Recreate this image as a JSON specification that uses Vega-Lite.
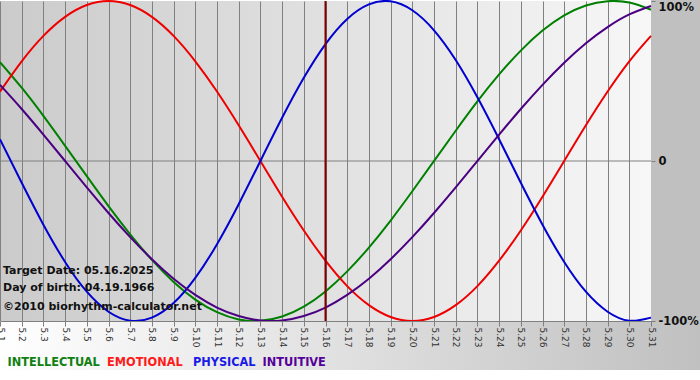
{
  "$schema": "https://vega.github.io/schema/vega-lite/v6.json",
  "width": 651,
  "height": 320,
  "autosize": {"type": "none"},
  "padding": {"left": 0, "top": 1, "right": 49, "bottom": 59},
  "background": "#ffffff",
  "view": {"stroke": null, "fill": {"expr": "{gradient: 'linear', x1: 0, y1: 0, x2: 1, y2: 0, stops: [{offset: 0, color: '#cbcbcb'}, {offset: 1, color: '#f7f7f7'}]}"}},
  "config": {"font": "DejaVu Sans"},
  "resolve": {"axis": {"x": "independent"}},
  "layer": [
    {
      "data": {"values": [{}]},
      "mark": {"type": "rect", "fill": {"gradient": "linear", "x1": 0, "y1": 0, "x2": 1, "y2": 0, "stops": [{"offset": 0, "color": "#ffffff"}, {"offset": 1, "color": "#c0c0c0"}]}},
      "encoding": {
        "x": {
          "datum": 0.9, "type": "quantitative",
          "axis": {
            "orient": "bottom",
            "values": [1,2,3,4,5,6,7,8,9,10,11,12,13,14,15,16,17,18,19,20,21,22,23,24,25,26,27,28,29,30,31],
            "tickCount": 40,
            "labelExpr": "'5.' + datum.value",
            "title": null,
            "grid": false,
            "domain": true, "domainColor": "#808080",
            "ticks": true, "tickColor": "#808080", "tickSize": 5,
            "labelAngle": 90, "labelFont": "DejaVu Sans", "labelFontSize": 9, "labelColor": "#333333",
            "labelPadding": 1, "labelOverlap": false, "labelFlush": false, "labelBound": false,
            "zindex": 1
          }
        },
        "x2": {"datum": 33.3},
        "y": {"datum": -100, "type": "quantitative"},
        "y2": {"datum": -130.6}
      }
    },
    {
      "data": {"values": [{}]},
      "mark": {"type": "rect", "fill": "#c0c0c0"},
      "encoding": {
        "x": {"datum": 31, "type": "quantitative", "axis": null},
        "x2": {"datum": 33.3},
        "y": {"datum": -100, "type": "quantitative"},
        "y2": {"datum": 101}
      }
    },
    {
      "data": {"values": [{}]},
      "mark": {"type": "rule", "color": "#808080", "strokeWidth": 1},
      "encoding": {"y": {"datum": 0, "type": "quantitative"}}
    },
    {
      "data": {"values": [
        {"day": 1, "series": "INTELLECTUAL", "value": 61.8}, {"day": 2, "series": "INTELLECTUAL", "value": 45.8}, {"day": 3, "series": "INTELLECTUAL", "value": 28.2}, {"day": 4, "series": "INTELLECTUAL", "value": 9.5}, {"day": 5, "series": "INTELLECTUAL", "value": -9.5}, {"day": 6, "series": "INTELLECTUAL", "value": -28.2}, {"day": 7, "series": "INTELLECTUAL", "value": -45.8}, {"day": 8, "series": "INTELLECTUAL", "value": -61.8}, {"day": 9, "series": "INTELLECTUAL", "value": -75.6}, {"day": 10, "series": "INTELLECTUAL", "value": -86.6}, {"day": 11, "series": "INTELLECTUAL", "value": -94.5}, {"day": 12, "series": "INTELLECTUAL", "value": -99.0}, {"day": 13, "series": "INTELLECTUAL", "value": -99.9}, {"day": 14, "series": "INTELLECTUAL", "value": -97.2}, {"day": 15, "series": "INTELLECTUAL", "value": -91.0}, {"day": 16, "series": "INTELLECTUAL", "value": -81.5}, {"day": 17, "series": "INTELLECTUAL", "value": -69.0}, {"day": 18, "series": "INTELLECTUAL", "value": -54.1}, {"day": 19, "series": "INTELLECTUAL", "value": -37.2}, {"day": 20, "series": "INTELLECTUAL", "value": -18.9}, {"day": 21, "series": "INTELLECTUAL", "value": 0}, {"day": 22, "series": "INTELLECTUAL", "value": 18.9}, {"day": 23, "series": "INTELLECTUAL", "value": 37.2}, {"day": 24, "series": "INTELLECTUAL", "value": 54.1}, {"day": 25, "series": "INTELLECTUAL", "value": 69.0}, {"day": 26, "series": "INTELLECTUAL", "value": 81.5}, {"day": 27, "series": "INTELLECTUAL", "value": 91.0}, {"day": 28, "series": "INTELLECTUAL", "value": 97.2}, {"day": 29, "series": "INTELLECTUAL", "value": 99.9}, {"day": 30, "series": "INTELLECTUAL", "value": 99.0}, {"day": 31, "series": "INTELLECTUAL", "value": 94.5},
        {"day": 1, "series": "EMOTIONAL", "value": 43.4}, {"day": 2, "series": "EMOTIONAL", "value": 62.3}, {"day": 3, "series": "EMOTIONAL", "value": 78.2}, {"day": 4, "series": "EMOTIONAL", "value": 90.1}, {"day": 5, "series": "EMOTIONAL", "value": 97.5}, {"day": 6, "series": "EMOTIONAL", "value": 100}, {"day": 7, "series": "EMOTIONAL", "value": 97.5}, {"day": 8, "series": "EMOTIONAL", "value": 90.1}, {"day": 9, "series": "EMOTIONAL", "value": 78.2}, {"day": 10, "series": "EMOTIONAL", "value": 62.3}, {"day": 11, "series": "EMOTIONAL", "value": 43.4}, {"day": 12, "series": "EMOTIONAL", "value": 22.3}, {"day": 13, "series": "EMOTIONAL", "value": 0}, {"day": 14, "series": "EMOTIONAL", "value": -22.3}, {"day": 15, "series": "EMOTIONAL", "value": -43.4}, {"day": 16, "series": "EMOTIONAL", "value": -62.3}, {"day": 17, "series": "EMOTIONAL", "value": -78.2}, {"day": 18, "series": "EMOTIONAL", "value": -90.1}, {"day": 19, "series": "EMOTIONAL", "value": -97.5}, {"day": 20, "series": "EMOTIONAL", "value": -100}, {"day": 21, "series": "EMOTIONAL", "value": -97.5}, {"day": 22, "series": "EMOTIONAL", "value": -90.1}, {"day": 23, "series": "EMOTIONAL", "value": -78.2}, {"day": 24, "series": "EMOTIONAL", "value": -62.3}, {"day": 25, "series": "EMOTIONAL", "value": -43.4}, {"day": 26, "series": "EMOTIONAL", "value": -22.3}, {"day": 27, "series": "EMOTIONAL", "value": 0}, {"day": 28, "series": "EMOTIONAL", "value": 22.3}, {"day": 29, "series": "EMOTIONAL", "value": 43.4}, {"day": 30, "series": "EMOTIONAL", "value": 62.3}, {"day": 31, "series": "EMOTIONAL", "value": 78.2},
        {"day": 1, "series": "PHYSICAL", "value": 13.6}, {"day": 2, "series": "PHYSICAL", "value": -13.6}, {"day": 3, "series": "PHYSICAL", "value": -39.8}, {"day": 4, "series": "PHYSICAL", "value": -63.1}, {"day": 5, "series": "PHYSICAL", "value": -81.7}, {"day": 6, "series": "PHYSICAL", "value": -94.2}, {"day": 7, "series": "PHYSICAL", "value": -99.8}, {"day": 8, "series": "PHYSICAL", "value": -97.9}, {"day": 9, "series": "PHYSICAL", "value": -88.8}, {"day": 10, "series": "PHYSICAL", "value": -73.1}, {"day": 11, "series": "PHYSICAL", "value": -52.0}, {"day": 12, "series": "PHYSICAL", "value": -27.0}, {"day": 13, "series": "PHYSICAL", "value": 0}, {"day": 14, "series": "PHYSICAL", "value": 27.0}, {"day": 15, "series": "PHYSICAL", "value": 52.0}, {"day": 16, "series": "PHYSICAL", "value": 73.1}, {"day": 17, "series": "PHYSICAL", "value": 88.8}, {"day": 18, "series": "PHYSICAL", "value": 97.9}, {"day": 19, "series": "PHYSICAL", "value": 99.8}, {"day": 20, "series": "PHYSICAL", "value": 94.2}, {"day": 21, "series": "PHYSICAL", "value": 81.7}, {"day": 22, "series": "PHYSICAL", "value": 63.1}, {"day": 23, "series": "PHYSICAL", "value": 39.8}, {"day": 24, "series": "PHYSICAL", "value": 13.6}, {"day": 25, "series": "PHYSICAL", "value": -13.6}, {"day": 26, "series": "PHYSICAL", "value": -39.8}, {"day": 27, "series": "PHYSICAL", "value": -63.1}, {"day": 28, "series": "PHYSICAL", "value": -81.7}, {"day": 29, "series": "PHYSICAL", "value": -94.2}, {"day": 30, "series": "PHYSICAL", "value": -99.8}, {"day": 31, "series": "PHYSICAL", "value": -97.9},
        {"day": 1, "series": "INTUITIVE", "value": 47.6}, {"day": 2, "series": "INTUITIVE", "value": 32.5}, {"day": 3, "series": "INTUITIVE", "value": 16.5}, {"day": 4, "series": "INTUITIVE", "value": 0}, {"day": 5, "series": "INTUITIVE", "value": -16.5}, {"day": 6, "series": "INTUITIVE", "value": -32.5}, {"day": 7, "series": "INTUITIVE", "value": -47.6}, {"day": 8, "series": "INTUITIVE", "value": -61.4}, {"day": 9, "series": "INTUITIVE", "value": -73.6}, {"day": 10, "series": "INTUITIVE", "value": -83.7}, {"day": 11, "series": "INTUITIVE", "value": -91.6}, {"day": 12, "series": "INTUITIVE", "value": -96.9}, {"day": 13, "series": "INTUITIVE", "value": -99.7}, {"day": 14, "series": "INTUITIVE", "value": -99.7}, {"day": 15, "series": "INTUITIVE", "value": -96.9}, {"day": 16, "series": "INTUITIVE", "value": -91.6}, {"day": 17, "series": "INTUITIVE", "value": -83.7}, {"day": 18, "series": "INTUITIVE", "value": -73.6}, {"day": 19, "series": "INTUITIVE", "value": -61.4}, {"day": 20, "series": "INTUITIVE", "value": -47.6}, {"day": 21, "series": "INTUITIVE", "value": -32.5}, {"day": 22, "series": "INTUITIVE", "value": -16.5}, {"day": 23, "series": "INTUITIVE", "value": 0}, {"day": 24, "series": "INTUITIVE", "value": 16.5}, {"day": 25, "series": "INTUITIVE", "value": 32.5}, {"day": 26, "series": "INTUITIVE", "value": 47.6}, {"day": 27, "series": "INTUITIVE", "value": 61.4}, {"day": 28, "series": "INTUITIVE", "value": 73.6}, {"day": 29, "series": "INTUITIVE", "value": 83.7}, {"day": 30, "series": "INTUITIVE", "value": 91.6}, {"day": 31, "series": "INTUITIVE", "value": 96.9}
      ]},
      "mark": {"type": "line", "strokeWidth": 2, "interpolate": "natural"},
      "encoding": {
        "x": {
          "field": "day", "type": "quantitative",
          "scale": {"domain": [1, 31], "nice": false, "zero": false},
          "axis": {
            "orient": "bottom",
            "values": [1,2,3,4,5,6,7,8,9,10,11,12,13,14,15,16,17,18,19,20,21,22,23,24,25,26,27,28,29,30,31],
            "tickCount": 40,
            "title": null,
            "grid": true, "gridColor": "#808080", "gridOpacity": 1, "gridWidth": 1,
            "labels": false, "ticks": false, "domain": false,
            "zindex": 0
          }
        },
        "y": {
          "field": "value", "type": "quantitative",
          "scale": {"domain": [-100, 100], "nice": false, "zero": false},
          "axis": {
            "orient": "right",
            "values": [-100, 0, 100],
            "labelExpr": "datum.value == 0 ? '0' : datum.value + '%'",
            "title": null, "grid": false, "domain": false,
            "ticks": true, "tickSize": 4, "tickColor": "#808080",
            "labelFont": "DejaVu Sans", "labelFontWeight": "bold", "labelFontSize": 11.5, "labelColor": "#111111",
            "labelPadding": 3,
            "labelBaseline": {"condition": {"test": "datum.value == 100", "value": "top"}, "value": "middle"},
            "labelFlush": false, "labelOverlap": false, "labelBound": false,
            "zindex": 1
          }
        },
        "color": {
          "field": "series", "type": "nominal",
          "scale": {"domain": ["INTELLECTUAL", "EMOTIONAL", "PHYSICAL", "INTUITIVE"], "range": ["#008000", "#ee0000", "#0000d0", "#4b0082"]},
          "legend": null
        }
      }
    },
    {
      "data": {"values": [{}]},
      "mark": {"type": "rule", "color": "#800000", "strokeWidth": 2},
      "encoding": {"x": {"datum": 16, "type": "quantitative", "axis": null}}
    },
    {
      "data": {"values": [{"label": "Target Date: 05.16.2025"}]},
      "mark": {"type": "text", "align": "left", "baseline": "middle", "font": "DejaVu Sans", "fontWeight": "bold", "fontSize": 11, "color": "#111111"},
      "encoding": {"x": {"datum": 1.14, "type": "quantitative", "axis": null}, "y": {"datum": -68.75, "type": "quantitative"}, "text": {"field": "label"}}
    },
    {
      "data": {"values": [{"label": "Day of birth: 04.19.1966"}]},
      "mark": {"type": "text", "align": "left", "baseline": "middle", "font": "DejaVu Sans", "fontWeight": "bold", "fontSize": 11, "color": "#111111"},
      "encoding": {"x": {"datum": 1.14, "type": "quantitative", "axis": null}, "y": {"datum": -79.4, "type": "quantitative"}, "text": {"field": "label"}}
    },
    {
      "data": {"values": [{"label": "©2010 biorhythm-calculator.net"}]},
      "mark": {"type": "text", "align": "left", "baseline": "middle", "font": "DejaVu Sans", "fontWeight": "bold", "fontSize": 11, "color": "#111111"},
      "encoding": {"x": {"datum": 1.14, "type": "quantitative", "axis": null}, "y": {"datum": -91.25, "type": "quantitative"}, "text": {"field": "label"}}
    },
    {
      "data": {"values": [{"label": "INTELLECTUAL"}]},
      "mark": {"type": "text", "align": "left", "baseline": "middle", "font": "DejaVu Sans Condensed", "fontWeight": "bold", "fontSize": 12.6, "color": "#108010"},
      "encoding": {"x": {"datum": 1.35, "type": "quantitative", "axis": null}, "y": {"datum": -125.6, "type": "quantitative"}, "text": {"field": "label"}}
    },
    {
      "data": {"values": [{"label": "EMOTIONAL"}]},
      "mark": {"type": "text", "align": "left", "baseline": "middle", "font": "DejaVu Sans Condensed", "fontWeight": "bold", "fontSize": 12.6, "color": "#ff1a1a"},
      "encoding": {"x": {"datum": 5.93, "type": "quantitative", "axis": null}, "y": {"datum": -125.6, "type": "quantitative"}, "text": {"field": "label"}}
    },
    {
      "data": {"values": [{"label": "PHYSICAL"}]},
      "mark": {"type": "text", "align": "left", "baseline": "middle", "font": "DejaVu Sans Condensed", "fontWeight": "bold", "fontSize": 12.6, "color": "#1a1ae6"},
      "encoding": {"x": {"datum": 9.89, "type": "quantitative", "axis": null}, "y": {"datum": -125.6, "type": "quantitative"}, "text": {"field": "label"}}
    },
    {
      "data": {"values": [{"label": "INTUITIVE"}]},
      "mark": {"type": "text", "align": "left", "baseline": "middle", "font": "DejaVu Sans Condensed", "fontWeight": "bold", "fontSize": 12.6, "color": "#550099"},
      "encoding": {"x": {"datum": 13.1, "type": "quantitative", "axis": null}, "y": {"datum": -125.6, "type": "quantitative"}, "text": {"field": "label"}}
    }
  ]
}
